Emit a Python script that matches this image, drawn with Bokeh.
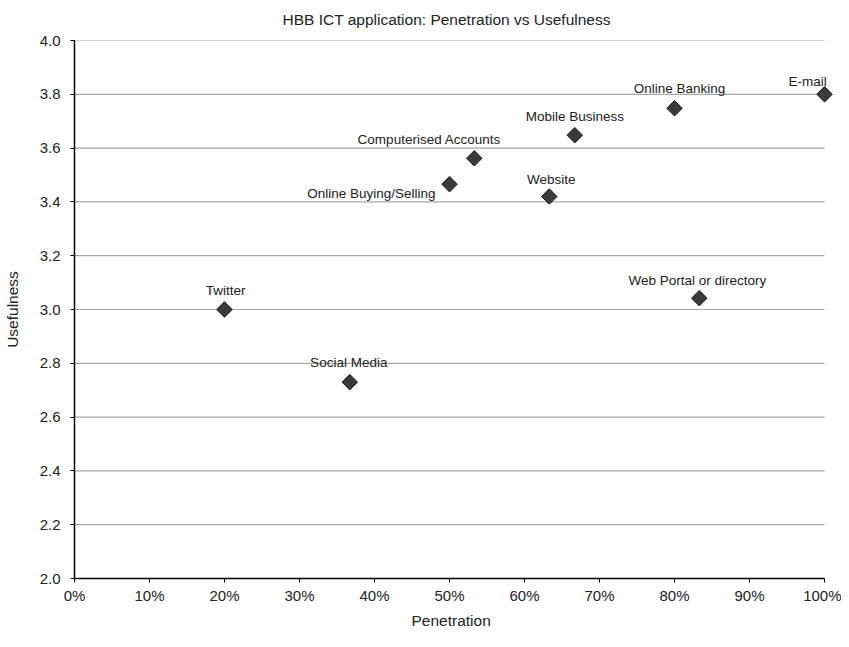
import math
from bokeh.plotting import figure
from bokeh.models import ColumnDataSource, NumeralTickFormatter, FixedTicker, Range1d, Title
from bokeh.core.properties import value
from bokeh.embed import file_html
from bokeh.resources import INLINE

apps = ["Twitter", "Social Media", "Online Buying/Selling", "Computerised Accounts",
        "Website", "Mobile Business", "Online Banking", "E-mail", "Web Portal or directory"]
penetration = [0.20, 0.367, 0.50, 0.533, 0.633, 0.667, 0.80, 1.00, 0.833]
usefulness = [3.00, 2.73, 3.466, 3.562, 3.42, 3.648, 3.748, 3.80, 3.042]

x_ticks = [i / 10 for i in range(11)]
y_ticks = [round(2 + 0.2 * i, 1) for i in range(11)]

# label placement (pixel offsets from each point) and alignment
label_dx = [1, -1, -14, -45, 2, 0, 5, -17, -2]
label_dy = [-19, -20, 9, -19, -17, -19, -20, -13, -18]
label_align = ["center", "center", "right", "center", "center", "center", "center", "center", "center"]

src = ColumnDataSource(dict(x=penetration, y=usefulness, name=apps,
                            dx=label_dx, dy=label_dy, align=label_align))

FONT = "Liberation Sans"
TXT = "#222222"

# x range padded a little beyond 100% so the last marker/label are not clipped
p = figure(width=841, height=631, output_backend="svg", toolbar_location=None,
           x_range=Range1d(0, 1.0226), y_range=Range1d(2, 4),
           min_border_left=73, min_border_right=0, min_border_top=39, min_border_bottom=50)

# chart title, placed over the 0-100% plot area
p.title = Title(text="HBB ICT application: Penetration vs Usefulness", align="left",
                vertical_align="top", offset=208, standoff=21, text_font=FONT,
                text_font_size="15.5px", text_font_style="normal", text_color=TXT)

p.outline_line_color = None
p.background_fill_color = "white"
p.xgrid.grid_line_color = None
p.ygrid.grid_line_color = None

# horizontal grid lines spanning 0%..100%
p.segment(x0=[x_ticks[0]] * len(y_ticks), x1=[x_ticks[-1]] * len(y_ticks),
          y0=y_ticks, y1=y_ticks, line_color="#a8a8a8", line_width=1.2)

p.xaxis.ticker = FixedTicker(ticks=x_ticks)
p.yaxis.ticker = FixedTicker(ticks=y_ticks)
p.xaxis.bounds = (x_ticks[0], x_ticks[-1])
p.xaxis.formatter = NumeralTickFormatter(format="0%")
p.yaxis.formatter = NumeralTickFormatter(format="0.0")

for ax in (p.xaxis, p.yaxis):
    ax.axis_line_color = "black"
    ax.axis_line_width = 1.5
    ax.major_tick_line_color = "black"
    ax.major_tick_in = 0
    ax.major_tick_out = 4
    ax.minor_tick_line_color = None
    ax.major_label_text_font = FONT
    ax.major_label_text_font_size = "15px"
    ax.major_label_text_color = TXT
    ax.axis_label_text_font = FONT
    ax.axis_label_text_font_size = "15.5px"
    ax.axis_label_text_font_style = "normal"
    ax.axis_label_text_color = TXT

p.yaxis.axis_label = "Usefulness"
p.xaxis.major_label_standoff = 4
p.yaxis.major_label_standoff = 10
p.yaxis.axis_label_standoff = 16

# x-axis title, placed under the 0-100% plot area
p.add_layout(Title(text="Penetration", align="left", offset=337, standoff=6,
                   text_font=FONT, text_font_size="15.5px", text_font_style="normal",
                   text_color=TXT), "below")

p.scatter("x", "y", source=src, marker="square", size=11, angle=math.pi / 4,
          fill_color="#3a3a3a", line_color="#1e1e1e", line_width=1)

p.text("x", "y", text="name", source=src, x_offset="dx", y_offset="dy",
       text_align="align", text_baseline="middle",
       text_font=value(FONT), text_font_size="13.5px", text_color=TXT)

open("out.html", "w").write(file_html(p, INLINE))
